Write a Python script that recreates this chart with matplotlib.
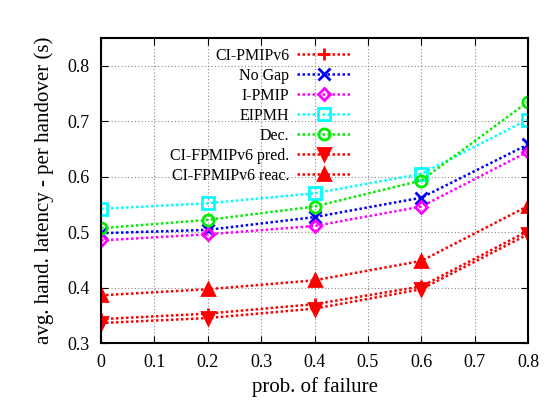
import matplotlib
matplotlib.use("Agg")
import matplotlib.pyplot as plt
import numpy as np

plt.rcParams['font.family'] = ['Liberation Serif', 'DejaVu Serif']
plt.rcParams['mathtext.fontset'] = 'stix'

x = [0, 0.2, 0.4, 0.6, 0.8]
ci_pmipv6 = [0.343, 0.353, 0.370, 0.402, 0.502]
no_gap = [0.498, 0.504, 0.527, 0.562, 0.658]
i_pmip = [0.485, 0.496, 0.511, 0.546, 0.645]
eipmh = [0.542, 0.552, 0.570, 0.605, 0.703]
dec = [0.507, 0.522, 0.546, 0.593, 0.735]
fp_pred = [0.336, 0.345, 0.362, 0.397, 0.496]
fp_reac = [0.386, 0.397, 0.413, 0.448, 0.547]

labels = ["CI-PMIPv6", "No Gap", "I-PMIP", "EIPMH", "Dec.",
          "CI-FPMIPv6 pred.", "CI-FPMIPv6 reac."]
xticks = [0, 0.1, 0.2, 0.3, 0.4, 0.5, 0.6, 0.7, 0.8]
yticks = [0.3, 0.4, 0.5, 0.6, 0.7, 0.8]

fig = plt.figure(figsize=(5.51, 4.07), dpi=100)
ax = fig.add_axes([101/551, 1 - 343/407, 427/551, 305/407])

lw = 1.8
ls = (0, (1, 1))
series = [
    (ci_pmipv6, '#ff0000', '+', True, 9),
    (no_gap, '#0000ff', 'x', True, 8),
    (i_pmip, '#ff00ff', 'D', False, 6),
    (eipmh, '#00ffff', 's', False, 8),
    (dec, '#00ee00', 'o', False, 8),
    (fp_pred, '#ff0000', 'v', True, 8),
    (fp_reac, '#ff0000', '^', True, 8),
]
for (ys, c, m, filled, s), lab in zip(series, labels):
    if filled:
        ax.plot(x, ys, color=c, ls=ls, lw=lw, marker=m, ms=s, mew=2.0,
                mfc=c, mec=c, label=lab)
    else:
        ax.plot(x, ys, color=c, ls=ls, lw=lw, marker=m, ms=s, mew=2.0,
                mfc='none', mec=c, label=lab)

ax.set_xlim(0, 0.8)
ax.set_ylim(0.3, 0.85)
ax.set_xticks(xticks)
ax.set_xticklabels([("%g" % t) for t in xticks])
ax.set_yticks(yticks)
ax.set_yticklabels([("%g" % t) for t in yticks])
ax.tick_params(direction='in', top=True, right=True, labelsize=13, length=5,
               pad=8)
ax.grid(True, color='#888888', ls=(0, (1, 2)), lw=0.8)
for sp in ax.spines.values():
    sp.set_linewidth(1.5)
ax.set_xlabel("prob. of failure", fontsize=15, labelpad=4)
ax.set_ylabel("avg. hand. latency - per handover (s)", fontsize=15, labelpad=10)

leg = ax.legend(loc='upper right', bbox_to_anchor=(0.583, 0.968),
                markerfirst=False, frameon=False, fontsize=11.5,
                handlelength=3.3, handletextpad=0.5, labelspacing=0.25,
                borderpad=0, borderaxespad=0)

fig.savefig("out.png", dpi=100)
